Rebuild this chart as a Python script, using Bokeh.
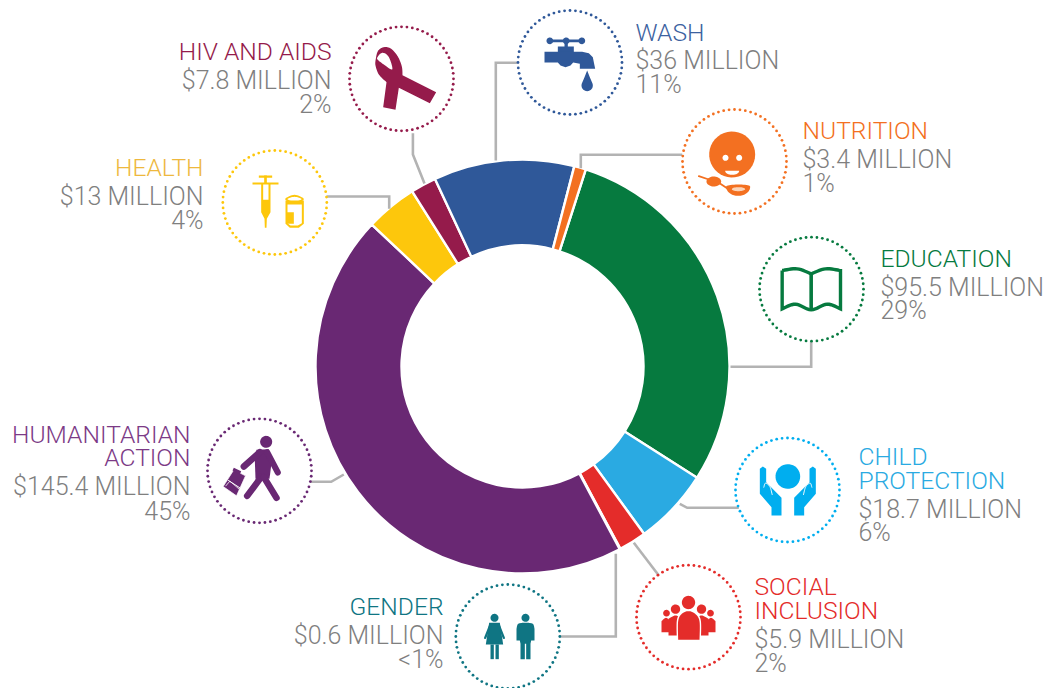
import math
import numpy as np
from bokeh.plotting import figure
from bokeh.models import Range1d
from bokeh.core.properties import value
from bokeh.embed import file_html
from bokeh.resources import INLINE

# ---- data -----------------------------------------------------------------
categories = ["Education", "Child protection", "Social inclusion", "Gender",
              "Humanitarian action", "Health", "HIV and AIDS", "WASH", "Nutrition"]
# arc of each slice, in degrees
slice_degrees = [104.7, 21.5, 7.8, 0.2, 161.3, 14.5, 7.2, 39.5, 3.3]
amount_labels = ["$95.5 MILLION", "$18.7 MILLION", "$5.9 MILLION", "$0.6 MILLION",
                 "$145.4 MILLION", "$13 MILLION", "$7.8 MILLION", "$36 MILLION", "$3.4 MILLION"]
share_labels = ["29%", "6%", "2%", "<1%", "45%", "4%", "2%", "11%", "1%"]
colors = ["#067a3f", "#2aaae2", "#e42c2a", "#0f7583", "#692873", "#fdc70c", "#951b4b", "#2f5899", "#f37021"]
title_colors = ["#067a3f", "#2aaae2", "#e42c2a", "#0f7583", "#7c3a86", "#eeb83e", "#951b4b", "#3c62a0", "#f37021"]

FONT = "Roboto Light"
GREY = "#7f7f7f"
LINEC = "#b3b3b3"
FS_TITLE = "24.6px"
FS_VALUE = "25px"
BASE_SHIFT = 8.6
H = 688

p = figure(width=1048, height=688, x_range=Range1d(0, 1048), y_range=Range1d(0, 688),
           output_backend="svg", toolbar_location=None,
           x_axis_location=None, y_axis_location=None, min_border=0)
p.grid.visible = False
p.outline_line_color = None
p.background_fill_color = "white"
p.border_fill_color = "white"


def Y(v):
    return H - v

# ---- donut ----------------------------------------------------------------
CX, CY, R_OUT, R_IN = 522, 366, 207, 121
START = 17.8
cum = np.concatenate([[0], np.cumsum(slice_degrees)]) + START
p.annular_wedge(x=[CX] * len(slice_degrees), y=[Y(CY)] * len(slice_degrees),
                inner_radius=R_IN, outer_radius=R_OUT,
                start_angle=list(90 - cum[:-1]), end_angle=list(90 - cum[1:]),
                start_angle_units="deg", end_angle_units="deg", direction="clock",
                fill_color=colors, line_color="white", line_width=2.4)


# ---- helpers --------------------------------------------------------------
def Z(o, pts):
    return [o[0] + a / 3 for a, _ in pts], [Y(o[1] + b / 3) for _, b in pts]


def smooth(pts, closed=False, n=8):
    P = list(pts)
    if closed:
        P = [P[-1]] + P + P[:2]
    else:
        P = [P[0]] + P + [P[-1]]
    out = []
    for i in range(1, len(P) - 2):
        p0, p1, p2, p3 = map(np.array, P[i - 1:i + 3])
        for t in np.linspace(0, 1, n, endpoint=False):
            out.append(tuple(0.5 * (2 * p1 + (p2 - p0) * t + (2 * p0 - 5 * p1 + 4 * p2 - p3) * t * t
                                    + (3 * p1 - p0 - 3 * p2 + p3) * t ** 3)))
    if not closed:
        out.append(P[-2])
    return out


def ell(cx, cy, rx, ry=None, a0=0, a1=360, n=40):
    ry = rx if ry is None else ry
    return [(cx + rx * math.cos(math.radians(a)), cy + ry * math.sin(math.radians(a)))
            for a in np.linspace(a0, a1, n)]


def fill(o, pts, c):
    x, y = Z(o, pts)
    p.patch(x, y, fill_color=c, line_color=None)


def stroke(o, pts, c, w, cap="round", join="round"):
    x, y = Z(o, pts)
    p.line(x, y, line_color=c, line_width=w, line_cap=cap, line_join=join)


def ring(x, y, c):
    th = np.linspace(0, 2 * np.pi, 60, endpoint=False)
    p.circle(x + 52 * np.cos(th), Y(y) + 52 * np.sin(th), radius=1.4, fill_color=c, line_color=None)


def conn(*pts):
    p.line([a for a, _ in pts], [Y(b) for _, b in pts], line_color=LINEC, line_width=2.6,
           line_join="miter")


# ---- connectors -----------------------------------------------------------
conn((412.4, 132.7), (412.4, 154), (424, 183))
conn((516.7, 62.3), (495.3, 62.3), (495.3, 160))
conn((681.7, 154.3), (580.3, 154.3), (580.3, 167.7))
conn((326, 196), (388.7, 196), (388.7, 208.3))
conn((810.7, 340.7), (810.7, 366.3), (730, 366.3))
conn((738.3, 507.3), (686.7, 507.3), (679.3, 503.3))
conn((633.3, 542.3), (658.3, 575))
conn((559.3, 636), (615.3, 636), (615.3, 553.3))
conn((310, 481.3), (330.7, 481.3), (343.3, 474))

# ---- rings ----------------------------------------------------------------
ring(811, 288.7, colors[0])
ring(787, 489.5, "#00aeef")
ring(688, 616.7, colors[2])
ring(507.3, 636, colors[3])
ring(259, 470.3, colors[4])
ring(274.3, 202, colors[5])
ring(401, 78.3, colors[6])
ring(569.5, 62, colors[7])
ring(734, 161, colors[8])

# ---- icon: WASH -----------------------------------------------------------
o = (340, 0); c = colors[7]
stroke(o, [(628, 121), (724, 121)], c, 2.8)
for a in (628, 677, 724):
    fill(o, ell(a, 121, 10), c)
fill(o, [(672, 121), (682, 121), (682, 140), (672, 140)], c)
fill(o, [(652, 138), (700, 138), (700, 156), (652, 156)], c)
fill(o, [(612, 154), (725, 154), (745, 158), (757, 170), (762, 195), (764, 205), (718, 205), (718, 190),
         (698, 186), (690, 195), (675, 200), (660, 195), (652, 186), (612, 186)], c)
fill(o, [(740, 210), (748, 230)] + ell(740, 255, 17, 17, -20, 200) + [(732, 230)], c)

# ---- icon: HIV ------------------------------------------------------------
o = (340, 0); c = colors[6]
fill(o, smooth([(105, 180), (112, 152), (130, 140), (152, 145), (172, 168), (184, 198), (186, 224)])
     + [(287, 275), (268, 308), (175, 262), (165, 328), (128, 320), (138, 245)]
     + smooth([(138, 245), (115, 222), (105, 195), (105, 180)]), c)
fill(o, smooth([(110, 172), (122, 158), (136, 160), (148, 176), (155, 207), (130, 192), (114, 180)], closed=True), "white")

# ---- icon: Health ---------------------------------------------------------
o = (200, 140); c = colors[5]
fill(o, [(175, 105), (215, 105), (215, 112), (175, 112)], c)
fill(o, [(191, 105), (199, 105), (199, 128), (191, 128)], c)
fill(o, [(156, 126), (234, 126), (234, 132), (156, 132)], c)
fill(o, [(182, 130), (210, 130), (210, 215), (199, 235), (198, 262), (193, 262), (192, 235), (182, 215)], c)
fill(o, [(188, 132), (204, 132), (204, 178), (188, 178)], "white")
fill(o, smooth([(254, 176), (282, 163), (310, 176), (282, 190)], closed=True), c)
fill(o, smooth([(261, 176), (282, 169), (303, 176), (282, 183)], closed=True), "white")
fill(o, [(255, 180), (310, 180), (310, 250), (295, 262), (268, 262), (255, 250)], c)
fill(o, [(261, 192), (304, 192), (304, 248), (292, 255), (270, 255), (261, 248)], "white")
fill(o, [(258, 215), (280, 215), (280, 250), (258, 250)], c)
fill(o, [(286, 222), (300, 222), (300, 240), (286, 240)], "white")

# ---- icon: Humanitarian ---------------------------------------------------
o = (200, 410); c = colors[4]
fill(o, ell(197, 94, 18), c)
fill(o, [(168, 118), (205, 116), (214, 150), (207, 205), (165, 205), (163, 150)], c)
stroke(o, [(178, 125), (130, 168)], c, 6.5)
stroke(o, [(200, 125), (232, 186)], c, 6)
stroke(o, [(182, 200), (140, 256)], c, 6.5)
stroke(o, [(190, 200), (228, 262)], c, 6.5)
fill(o, [(100, 178), (135, 196), (108, 256), (68, 228)], c)
stroke(o, [(84, 210), (118, 232)], "white", 1.0)
stroke(o, [(76, 226), (88, 212), (100, 222), (116, 236)], "white", 0.8)
stroke(o, [(100, 178), (135, 196), (108, 256), (68, 228), (100, 178)], "white", 0.7)
fill(o, [(100, 172), (122, 182), (118, 192), (96, 180)], c)

# ---- icon: Gender ---------------------------------------------------------
o = (440, 520); c = colors[3]
fill(o, ell(162, 292, 12), c)
fill(o, [(146, 307), (178, 307), (188, 372), (136, 372)], c)
stroke(o, [(150, 312), (134, 352)], c, 2.3)
stroke(o, [(174, 312), (190, 352)], c, 2.3)
fill(o, [(150, 372), (160, 372), (160, 416), (150, 416)], c)
fill(o, [(165, 372), (175, 372), (175, 416), (165, 416)], c)
fill(o, ell(255, 292, 12), c)
fill(o, smooth([(228, 325), (232, 311), (245, 307)]) + smooth([(265, 307), (278, 311), (282, 325)])
     + [(282, 360), (272, 360), (270, 370), (270, 416), (257, 416), (257, 370), (253, 370), (253, 416), (240, 416), (240, 370), (238, 360), (228, 360)], c)

# ---- icon: Social ---------------------------------------------------------
o = (440, 520); c = colors[2]
for cx, r, l, rr, top, bot in [(678, 10, 663, 690, 292, 335), (810, 10, 798, 825, 292, 335),
                               (705, 14, 684, 726, 285, 345), (783, 14, 762, 804, 285, 345)]:
    fill(o, ell(cx, 278 if r == 10 else 266, r), c)
    fill(o, smooth([(l, top + 10), ((l + rr) / 2, top), (rr, top + 10)]) + [(rr, bot), (l, bot)], c)
fill(o, ell(744, 246, 24), "white")
fill(o, ell(744, 246, 20), c)
fill(o, smooth([(709, 362), (709, 300), (722, 276), (744, 268), (766, 276), (781, 300), (781, 362)]), "white")
fill(o, smooth([(713, 358), (713, 302), (724, 280), (744, 272), (764, 280), (777, 302), (777, 358)]), c)

# ---- icon: Education ------------------------------------------------------
o = (670, 220); c = colors[0]
top_l = smooth([(335, 150), (380, 145), (422, 160)])
top_r = smooth([(422, 160), (465, 145), (510, 150)])
bot = smooth([(510, 265), (470, 251), (422, 268), (375, 251), (335, 265)])
stroke(o, top_l + top_r + bot + [(335, 150)], c, 3.4, cap="butt", join="miter")
stroke(o, [(422, 158), (422, 268)], c, 3.6, cap="butt")

# ---- icon: Child protection -----------------------------------------------
o = (670, 220); c = "#00aeef"
fill(o, ell(352, 768, 37), c)
for s in (1, -1):
    m = (lambda q: (q[0], q[1])) if s == 1 else (lambda q: (704 - q[0], q[1]))
    fill(o, [m(q) for q in [(268, 745), (277, 738), (287, 745), (287, 785), (333, 832), (333, 885),
                            (303, 885), (303, 860), (268, 820)]], c)
    stroke(o, [m(q) for q in smooth([(280, 800), (285, 788), (298, 798), (305, 822)])], "white", 1.0)

# ---- icon: Nutrition ------------------------------------------------------
o = (680, 105); c = colors[8]
fill(o, ell(155, 147, 69), c)
fill(o, ell(135, 157, 9), "white")
fill(o, ell(176, 157, 9), "white")
fill(o, ell(155, 196, 21, 12, 0, 180), "white")
stroke(o, [(55, 212), (85, 222)], c, 1.8)
fill(o, ell(100, 228, 22, 15), c)
stroke(o, [(115, 232), (142, 250)], c, 1.8)
fill(o, ell(173, 244, 36, 27, 0, 180), c)
fill(o, ell(173, 243, 36, 6), c)
fill(o, ell(174, 251, 20, 6), "#fbd4b8")

# ---- texts ----------------------------------------------------------------
LAYOUT = [
    # index, x, align, title lines, title baselines, amount baseline, share baseline
    (0, 880, "left", ["EDUCATION"], [267], 295.5, 319),
    (1, 858, "left", ["CHILD", "PROTECTION"], [465, 489], 517.5, 541),
    (2, 754, "left", ["SOCIAL", "INCLUSION"], [595, 619], 648, 672),
    (3, 443, "right", ["GENDER"], [615], 644, 667.5),
    (4, 190, "right", ["HUMANITARIAN", "ACTION"], [442.7, 466], 495, 519.3),
    (5, 203, "right", ["HEALTH"], [176], 205, 229),
    (6, 331, "right", ["HIV AND AIDS"], [60], 89, 113),
    (7, 635, "left", ["WASH"], [41], 69, 93),
    (8, 802, "left", ["NUTRITION"], [139], 168, 192),
]


def txt(x, y, s, col, align, fs):
    p.text([x], [Y(y - BASE_SHIFT)], text=[s], text_color=col, text_font=value(FONT), text_font_size=fs,
           text_align=align, text_baseline="alphabetic")


for i, x, al, tl, tb, ab, sb in LAYOUT:
    for s, b in zip(tl, tb):
        txt(x, b, s, title_colors[i], al, FS_TITLE)
    txt(x, ab, amount_labels[i], GREY, al, FS_VALUE)
    txt(x, sb, share_labels[i], GREY, al, FS_VALUE)

open("out.html", "w").write(file_html(p, INLINE))
